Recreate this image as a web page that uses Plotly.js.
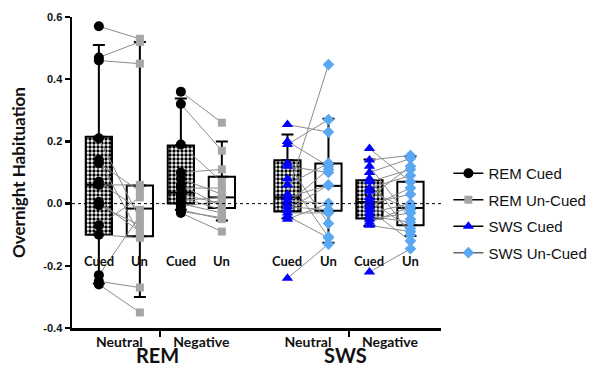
<!DOCTYPE html>
<html><head><meta charset="utf-8">
<script src="https://cdn.plot.ly/plotly-3.0.1.min.js"></script>
<style>html,body{margin:0;padding:0;background:#fff}#chart{width:604px;height:370px}</style>
</head><body><div id="chart"></div>
<script>
// ---------------- DATA ----------------
const stages = ['REM', 'SWS'];
const emotions = ['Neutral', 'Negative'];
const conditionLabels = ['Cued', 'Un'];
const legendNames = ['REM Cued', 'REM Un-Cued', 'SWS Cued', 'SWS Un-Cued'];

// paired participant values (cued[i] pairs with un[i])
const remNeutralCued = [0.57, 0.47, 0.46, 0.21, 0.14, 0.13, 0.07, 0.06, 0.005, -0.005, -0.07, -0.10, -0.23, -0.25, -0.26];
const remNeutralUn   = [0.53, 0.52, 0.45, -0.05, -0.10, 0.04, -0.02, 0.06, -0.09, -0.07, 0.02, -0.11, -0.04, -0.27, -0.35];
const remNegativeCued = [0.36, 0.32, 0.19, 0.10, 0.08, 0.06, 0.05, 0.03, 0.02, 0.01, 0.0, -0.01, -0.02, -0.025, -0.03];
const remNegativeUn   = [0.26, 0.17, 0.07, 0.11, 0.03, -0.01, 0.05, 0.0, -0.02, 0.02, -0.03, 0.01, -0.05, -0.045, -0.09];
const swsNeutralCued = [0.254, 0.20, 0.19, 0.13, 0.12, 0.08, 0.06, 0.03, 0.02, 0.01, 0.0, -0.01, -0.02, -0.03, -0.04, -0.05, -0.24];
const swsNeutralUn   = [0.23, 0.12, 0.27, -0.064, 0.10, -0.107, 0.13, 0.447, 0.059, 0.0, 0.11, -0.02, 0.06, -0.03, -0.11, 0.0, -0.13];
const swsNegativeCued = [0.177, 0.14, 0.12, 0.10, 0.08, 0.07, 0.05, 0.04, 0.02, 0.01, 0.0, -0.01, -0.02, -0.03, -0.04, -0.05, -0.06, -0.07, -0.22];
const swsNegativeUn   = [0.07, 0.155, -0.05, 0.145, -0.10, 0.11, 0.09, -0.02, 0.12, -0.08, 0.03, 0.05, -0.12, 0.0, -0.06, -0.03, -0.01, -0.09, -0.145];

// box statistics, order: REM-Neu-Cued, REM-Neu-Un, REM-Neg-Cued, REM-Neg-Un, SWS-Neu-Cued, SWS-Neu-Un, SWS-Neg-Cued, SWS-Neg-Un
const boxQ1      = [-0.10, -0.105, 0.0,   -0.014, -0.025, -0.023, -0.048, -0.07];
const boxMedian  = [0.06,  -0.016, 0.035,  0.02,   0.02,   0.057,  0.005, -0.014];
const boxQ3      = [0.215,  0.058, 0.187,  0.086,  0.139,  0.129,  0.075,  0.07];
const whiskerLow = [-0.257, -0.30, -0.02, -0.054, -0.048, -0.126, -0.072, -0.104];
const whiskerHigh= [0.51,   0.52,  0.338,  0.20,   0.222,  0.273,  0.142,  0.152];

const yTickVals = [-0.4, -0.2, 0, 0.2, 0.4, 0.6];
const yTickText = ['-0.4', '-0.2', '0.0', '0.2', '0.4', '0.6'];

// ---------------- LAYOUT HELPERS ----------------
const stageGap = 4.6, emoGap = 2, boxW = 0.64;
const pos = (s, e, c) => s * stageGap + e * emoGap + c;
const panels = [
  {s:0, e:0, cued: remNeutralCued, un: remNeutralUn},
  {s:0, e:1, cued: remNegativeCued, un: remNegativeUn},
  {s:1, e:0, cued: swsNeutralCued, un: swsNeutralUn},
  {s:1, e:1, cued: swsNegativeCued, un: swsNegativeUn}
];
const boxX = [];
panels.forEach(p => { boxX.push(pos(p.s, p.e, 0)); boxX.push(pos(p.s, p.e, 1)); });
const cuedIdx = [0, 2, 4, 6], unIdx = [1, 3, 5, 7];

const traces = [];
// boxes as floating bars
traces.push({
  type: 'bar', x: cuedIdx.map(i => boxX[i]), base: cuedIdx.map(i => boxQ1[i]),
  y: cuedIdx.map(i => boxQ3[i] - boxQ1[i]), width: boxW, showlegend: false, hoverinfo: 'skip',
  marker: {color: 'white', line: {color: 'black', width: 2},
    pattern: {shape: '.', fgcolor: 'black', bgcolor: 'white', size: 4, solidity: 0.55}}
});
traces.push({
  type: 'bar', x: unIdx.map(i => boxX[i]), base: unIdx.map(i => boxQ1[i]),
  y: unIdx.map(i => boxQ3[i] - boxQ1[i]), width: boxW, showlegend: false, hoverinfo: 'skip',
  marker: {color: 'white', line: {color: 'black', width: 2}}
});
// whiskers
traces.push({
  type: 'scatter', mode: 'markers', x: boxX, y: boxQ3, marker: {opacity: 0, size: 1},
  showlegend: false, hoverinfo: 'skip',
  error_y: {type: 'data', symmetric: false, array: boxX.map((_, i) => whiskerHigh[i] - boxQ3[i]),
    arrayminus: boxX.map(() => 0), color: 'black', thickness: 2, width: 6}
});
traces.push({
  type: 'scatter', mode: 'markers', x: boxX, y: boxQ1, marker: {opacity: 0, size: 1},
  showlegend: false, hoverinfo: 'skip',
  error_y: {type: 'data', symmetric: false, array: boxX.map(() => 0),
    arrayminus: boxX.map((_, i) => boxQ1[i] - whiskerLow[i]), color: 'black', thickness: 2, width: 6}
});
// medians
const mx = [], my = [];
boxX.forEach((x, i) => { mx.push(x - boxW / 2, x + boxW / 2, null); my.push(boxMedian[i], boxMedian[i], null); });
traces.push({type: 'scatter', mode: 'lines', x: mx, y: my, line: {color: 'black', width: 2}, showlegend: false, hoverinfo: 'skip'});
// paired lines
const lx = [], ly = [];
panels.forEach(p => {
  p.cued.forEach((v, i) => { lx.push(pos(p.s, p.e, 0), pos(p.s, p.e, 1), null); ly.push(v, p.un[i], null); });
});
traces.push({type: 'scatter', mode: 'lines', x: lx, y: ly, line: {color: '#8c8c8c', width: 1}, showlegend: false, hoverinfo: 'skip'});

// markers
const styles = [
  {symbol: 'circle', color: 'black', size: 10, line: 'black'},
  {symbol: 'square', color: '#a6a6a6', size: 8, line: 'black'},
  {symbol: 'triangle-up', color: '#0000ff', size: 10, line: 'black'},
  {symbol: 'diamond', color: '#5aa7f2', size: 9, line: '#666666'}
];
panels.forEach(p => {
  const cs = styles[p.s * 2], us = styles[p.s * 2 + 1];
  traces.push({type: 'scatter', mode: 'markers', x: p.cued.map(() => pos(p.s, p.e, 0)), y: p.cued,
    marker: {symbol: cs.symbol, color: cs.color, size: cs.size}, showlegend: false, hoverinfo: 'y'});
  traces.push({type: 'scatter', mode: 'markers', x: p.un.map(() => pos(p.s, p.e, 1)), y: p.un,
    marker: {symbol: us.symbol, color: us.color, size: us.size}, showlegend: false, hoverinfo: 'y'});
});
// legend entries
legendNames.forEach((n, i) => {
  traces.push({type: 'scatter', mode: 'lines+markers', x: [null], y: [null], name: n, legendgroup: 'g' + i,
    marker: {symbol: styles[i].symbol, color: styles[i].color, size: styles[i].size},
    line: {color: styles[i].line, width: 1.5}});
});

const emoCenters = [], emoText = [];
panels.forEach(p => { emoCenters.push(pos(p.s, p.e, 0.5)); emoText.push(emotions[p.e]); });
const seps = [pos(0, 0, 1.5), pos(1, 0, 1.5)];

const annotations = [];
boxX.forEach((x, i) => annotations.push({x: x, y: -0.183, xref: 'x', yref: 'y', text: conditionLabels[i % 2],
  showarrow: false, font: {family: 'Lato', size: 13, weight: 'bold', color: '#111'}}));
stages.forEach((s, i) => annotations.push({x: pos(i, 0.5, 0.5) - 0.08, y: -0.1318, xref: 'x', yref: 'paper', text: s,
  showarrow: false, yanchor: 'bottom', font: {family: 'Lato', size: 20, weight: 'bold', color: '#111'}}));

const layout = {
  width: 604, height: 370, margin: {l: 72, r: 154, t: 17, b: 42},
  paper_bgcolor: 'white', plot_bgcolor: 'white', barmode: 'overlay', showlegend: true,
  xaxis: {range: [-0.655, 8.345], showline: true, linewidth: 2.5, linecolor: 'black', zeroline: false, showgrid: false,
    tickmode: 'array', tickvals: emoCenters, ticktext: emoText, ticks: '',
    tickfont: {family: 'Lato', size: 14, weight: 'bold', color: '#111'},
    minor: {tickmode: 'array', tickvals: seps, ticks: 'outside', ticklen: 6, tickwidth: 2, tickcolor: 'black', showgrid: false},
    fixedrange: true},
  yaxis: {range: [-0.4, 0.6], showline: true, linewidth: 2.5, linecolor: 'black', zeroline: false, showgrid: false,
    tickmode: 'array', tickvals: yTickVals, ticktext: yTickText, ticks: 'outside', ticklen: 5, tickwidth: 2.5, tickcolor: 'black',
    tickfont: {family: 'Liberation Sans', size: 11, weight: 'bold', color: '#111'},
    title: {text: 'Overnight Habituation', font: {family: 'Lato', size: 17, weight: 'bold', color: '#111'}, standoff: 14},
    fixedrange: true},
  legend: {x: 1.02, xanchor: 'left', y: 0.55, yanchor: 'top', font: {family: 'Liberation Sans', size: 15, color: '#111'},
    tracegroupgap: 4, bgcolor: 'rgba(0,0,0,0)'},
  shapes: [{type: 'line', xref: 'paper', x0: 0, x1: 1, yref: 'y', y0: 0, y1: 0, layer: 'above',
    line: {color: 'black', width: 1, dash: 'dot'}}],
  annotations: annotations
};
Plotly.newPlot('chart', traces, layout, {displayModeBar: false, staticPlot: true});
</script></body></html>
